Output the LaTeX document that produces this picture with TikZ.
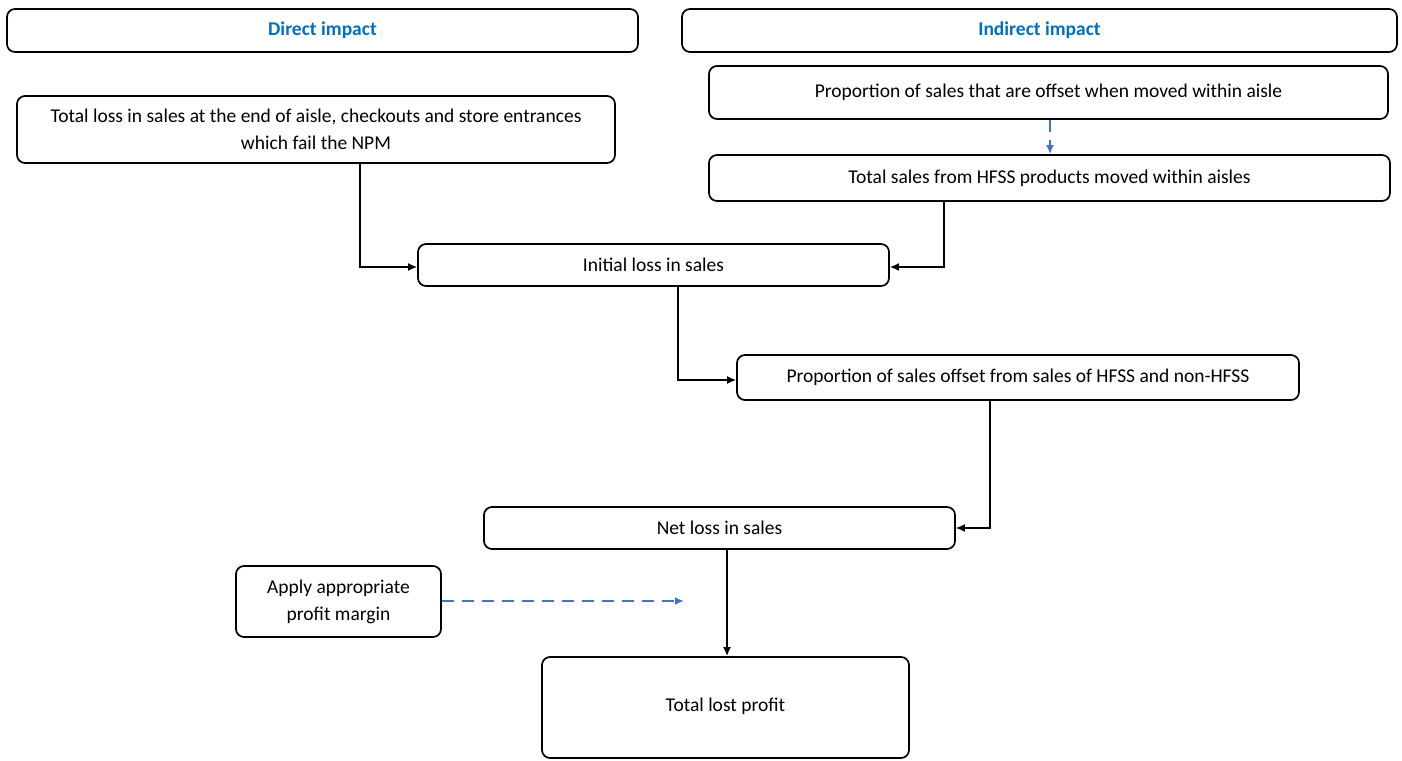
\documentclass[tikz,border=0pt]{standalone}
\usepackage{fontspec}
\setmainfont{Carlito}
\usetikzlibrary{arrows.meta,positioning}
\definecolor{headblue}{HTML}{0070C0}
\definecolor{dashblue}{HTML}{4472C4}
\tikzset{
  box/.style={draw=black, line width=1.7pt, rounded corners=8pt, fill=white,
    align=center, inner sep=0pt, font=\fontsize{19.5}{27}\selectfont},
  head/.style={box, font=\fontsize{19.5}{27}\selectfont\bfseries, text=headblue},
  conn/.style={draw=black, line width=1.5pt, -{Latex[length=9pt,width=8pt]}},
  dconn/.style={draw=dashblue, line width=2.6pt, dash pattern=on 12pt off 8pt, -{Latex[length=9pt,width=8pt]}},
}
\begin{document}
\begin{tikzpicture}[x=1pt,y=-1pt]
\useasboundingbox (0,0) rectangle (1402,760);
\node[head, minimum width=631pt, minimum height=43pt] (direct) at (322.5,30.5) {Direct impact};
\node[head, minimum width=715pt, minimum height=43pt] (indirect) at (1039.5,30.5) {Indirect impact};
\node[box, minimum width=598pt, minimum height=67pt] (total) at (316,129.5) {Total loss in sales at the end of aisle, checkouts and store entrances\\which fail the NPM};
\node[box, minimum width=679pt, minimum height=53pt] (propwithin) at (1048.5,92.5) {Proportion of sales that are offset when moved within aisle};
\node[box, minimum width=681pt, minimum height=46pt] (moved) at (1049.5,178) {Total sales from HFSS products moved within aisles};
\node[box, minimum width=471pt, minimum height=42pt] (initial) at (653.5,265) {Initial loss in sales};
\node[box, minimum width=562pt, minimum height=45pt] (offset) at (1018,377.5) {Proportion of sales offset from sales of HFSS and non-HFSS};
\node[box, minimum width=471pt, minimum height=42pt] (net) at (719.5,528) {Net loss in sales};
\node[box, minimum width=205pt, minimum height=71pt] (margin) at (338.5,601.5) {Apply appropriate\\profit margin};
\node[box, minimum width=367pt, minimum height=101pt, text depth=6pt] (profit) at (725.5,707.5) {Total lost profit};
\coordinate (marginend) at (684,601);
\draw[conn] (total.south -| 360,0) |- (initial.west |- 0,267);
\draw[conn] (moved.south -| 944,0) |- (initial.east |- 0,267);
\draw[dconn, line width=2pt] (propwithin.south -| 1050,0) -- (moved.north -| 1050,0);
\draw[conn] (initial.south -| 678,0) |- (offset.west |- 0,380);
\draw[conn] (offset.south -| 990,0) |- (net.east |- 0,528);
\draw[conn, line width=2.4pt] (net.south -| 727,0) -- (profit.north -| 727,0);
\draw[dconn] (margin.east |- 0,601) -- (marginend);
\end{tikzpicture}
\end{document}
